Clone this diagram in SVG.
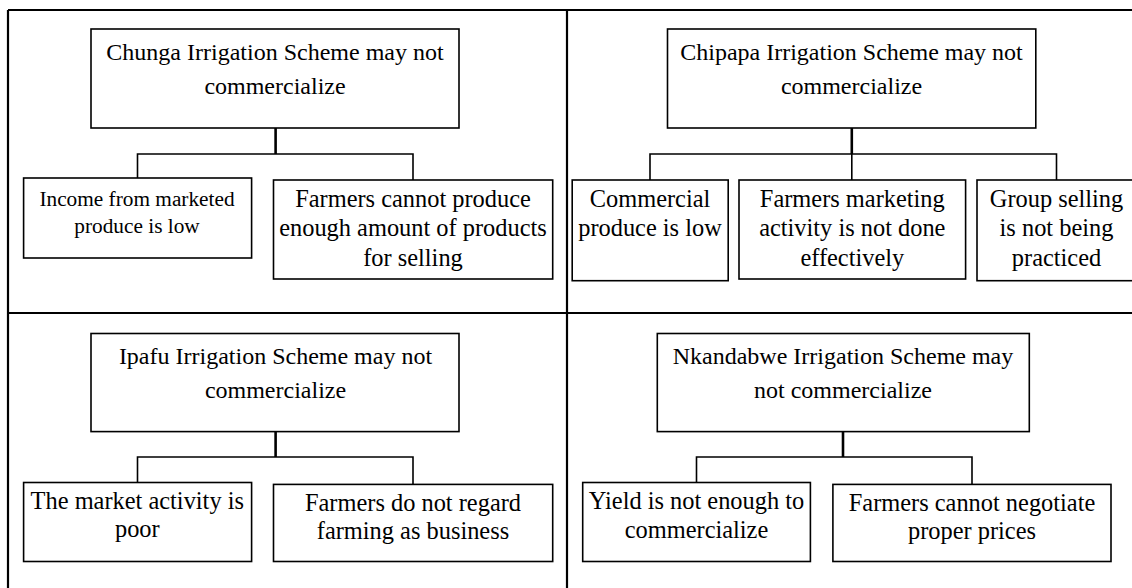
<svg xmlns="http://www.w3.org/2000/svg" width="1132" height="588" viewBox="0 0 1132 588">
  <style>
    .frame { stroke: #000; stroke-width: 2.2; fill: none; }
    .box { fill: #fff; stroke: #000; stroke-width: 1.6; }
    .stem { stroke: #000; stroke-width: 2.6; fill: none; }
    .branch { stroke: #000; stroke-width: 1.6; fill: none; }
    .lbl { fill: #000; text-anchor: middle; font-family: "Liberation Serif", "Times New Roman", serif; }
    .t24 { font-size: 24px; }
    .t21 { font-size: 21.3px; }
    .tc { font-size: 24.4px; }
  </style>
  <rect width="1132" height="588" fill="#fff"/>

  <!-- quadrant frame -->
  <g id="frame">
    <line class="frame" x1="8" y1="10" x2="1132" y2="10"/>
    <line class="frame" x1="8" y1="10" x2="8" y2="588"/>
    <line class="frame" x1="567" y1="10" x2="567" y2="588"/>
    <line class="frame" x1="8" y1="313" x2="1132" y2="313"/>
  </g>

  <!-- connectors: thick stem from each root, thin branches to the causes -->
  <g id="connectors">
    <line class="stem" x1="275.6" y1="128" x2="275.6" y2="154"/>
    <polyline class="branch" points="137.5,178 137.5,154 413,154 413,180"/>
    <line class="stem" x1="851.8" y1="128" x2="851.8" y2="154"/>
    <polyline class="branch" points="650,180 650,154 1056.5,154 1056.5,180"/>
    <line class="branch" x1="851.8" y1="154" x2="851.8" y2="180"/>
    <line class="stem" x1="275.6" y1="431.6" x2="275.6" y2="457"/>
    <polyline class="branch" points="137.5,482.5 137.5,457 413,457 413,484.4"/>
    <line class="stem" x1="843" y1="431.6" x2="843" y2="457"/>
    <polyline class="branch" points="696.5,482.5 696.5,457 972,457 972,484.4"/>
  </g>

  <!-- Chunga Irrigation Scheme -->
  <g id="chunga-root">
    <rect class="box" x="91" y="29" width="368" height="99"/>
    <text class="lbl t24" x="275" y="60">Chunga Irrigation Scheme may not</text>
    <text class="lbl t24" x="275" y="94">commercialize</text>
  </g>
  <g id="chunga-income">
    <rect class="box" x="23.6" y="178" width="228" height="80"/>
    <text class="lbl t21" x="137" y="205.5">Income from marketed</text>
    <text class="lbl t21" x="137" y="232.7">produce is low</text>
  </g>
  <g id="chunga-production">
    <rect class="box" x="273.5" y="180" width="279.2" height="99"/>
    <text class="lbl tc" x="413" y="207">Farmers cannot produce</text>
    <text class="lbl tc" x="413" y="236.4">enough amount of products</text>
    <text class="lbl tc" x="413" y="265.5">for selling</text>
  </g>

  <!-- Chipapa Irrigation Scheme -->
  <g id="chipapa-root">
    <rect class="box" x="667.5" y="29" width="368.3" height="99"/>
    <text class="lbl t24" x="851.5" y="60">Chipapa Irrigation Scheme may not</text>
    <text class="lbl t24" x="851.5" y="94">commercialize</text>
  </g>
  <g id="chipapa-produce">
    <rect class="box" x="572.2" y="180" width="156" height="100.7"/>
    <text class="lbl tc" x="650" y="207.3">Commercial</text>
    <text class="lbl tc" x="650" y="236.4">produce is low</text>
  </g>
  <g id="chipapa-marketing">
    <rect class="box" x="739" y="180" width="226.6" height="99"/>
    <text class="lbl tc" x="852.3" y="207">Farmers marketing</text>
    <text class="lbl tc" x="852.3" y="236.4">activity is not done</text>
    <text class="lbl tc" x="852.3" y="265.5">effectively</text>
  </g>
  <g id="chipapa-group">
    <rect class="box" x="977" y="180" width="160" height="100.7"/>
    <text class="lbl tc" x="1056.5" y="207">Group selling</text>
    <text class="lbl tc" x="1056.5" y="236.4">is not being</text>
    <text class="lbl tc" x="1056.5" y="265.5">practiced</text>
  </g>

  <!-- Ipafu Irrigation Scheme -->
  <g id="ipafu-root">
    <rect class="box" x="91" y="333.5" width="368" height="98.1"/>
    <text class="lbl t24" x="275.5" y="364.4">Ipafu Irrigation Scheme may not</text>
    <text class="lbl t24" x="275.5" y="398.2">commercialize</text>
  </g>
  <g id="ipafu-market">
    <rect class="box" x="23.6" y="482.5" width="228" height="79"/>
    <text class="lbl tc" x="137.3" y="509">The market activity is</text>
    <text class="lbl tc" x="137.3" y="537">poor</text>
  </g>
  <g id="ipafu-business">
    <rect class="box" x="273.5" y="484.4" width="279.2" height="77.1"/>
    <text class="lbl tc" x="413" y="510.5">Farmers do not regard</text>
    <text class="lbl tc" x="413" y="539">farming as business</text>
  </g>

  <!-- Nkandabwe Irrigation Scheme -->
  <g id="nkandabwe-root">
    <rect class="box" x="657.3" y="333.5" width="372" height="98.1"/>
    <text class="lbl t24" x="843" y="364.4">Nkandabwe Irrigation Scheme may</text>
    <text class="lbl t24" x="843" y="398.2">not commercialize</text>
  </g>
  <g id="nkandabwe-yield">
    <rect class="box" x="582.7" y="482.5" width="227.7" height="79"/>
    <text class="lbl tc" x="696.5" y="509">Yield is not enough to</text>
    <text class="lbl tc" x="696.5" y="538">commercialize</text>
  </g>
  <g id="nkandabwe-prices">
    <rect class="box" x="832.9" y="484.4" width="278.1" height="77.1"/>
    <text class="lbl tc" x="972" y="510.5">Farmers cannot negotiate</text>
    <text class="lbl tc" x="972" y="539">proper prices</text>
  </g>
</svg>
